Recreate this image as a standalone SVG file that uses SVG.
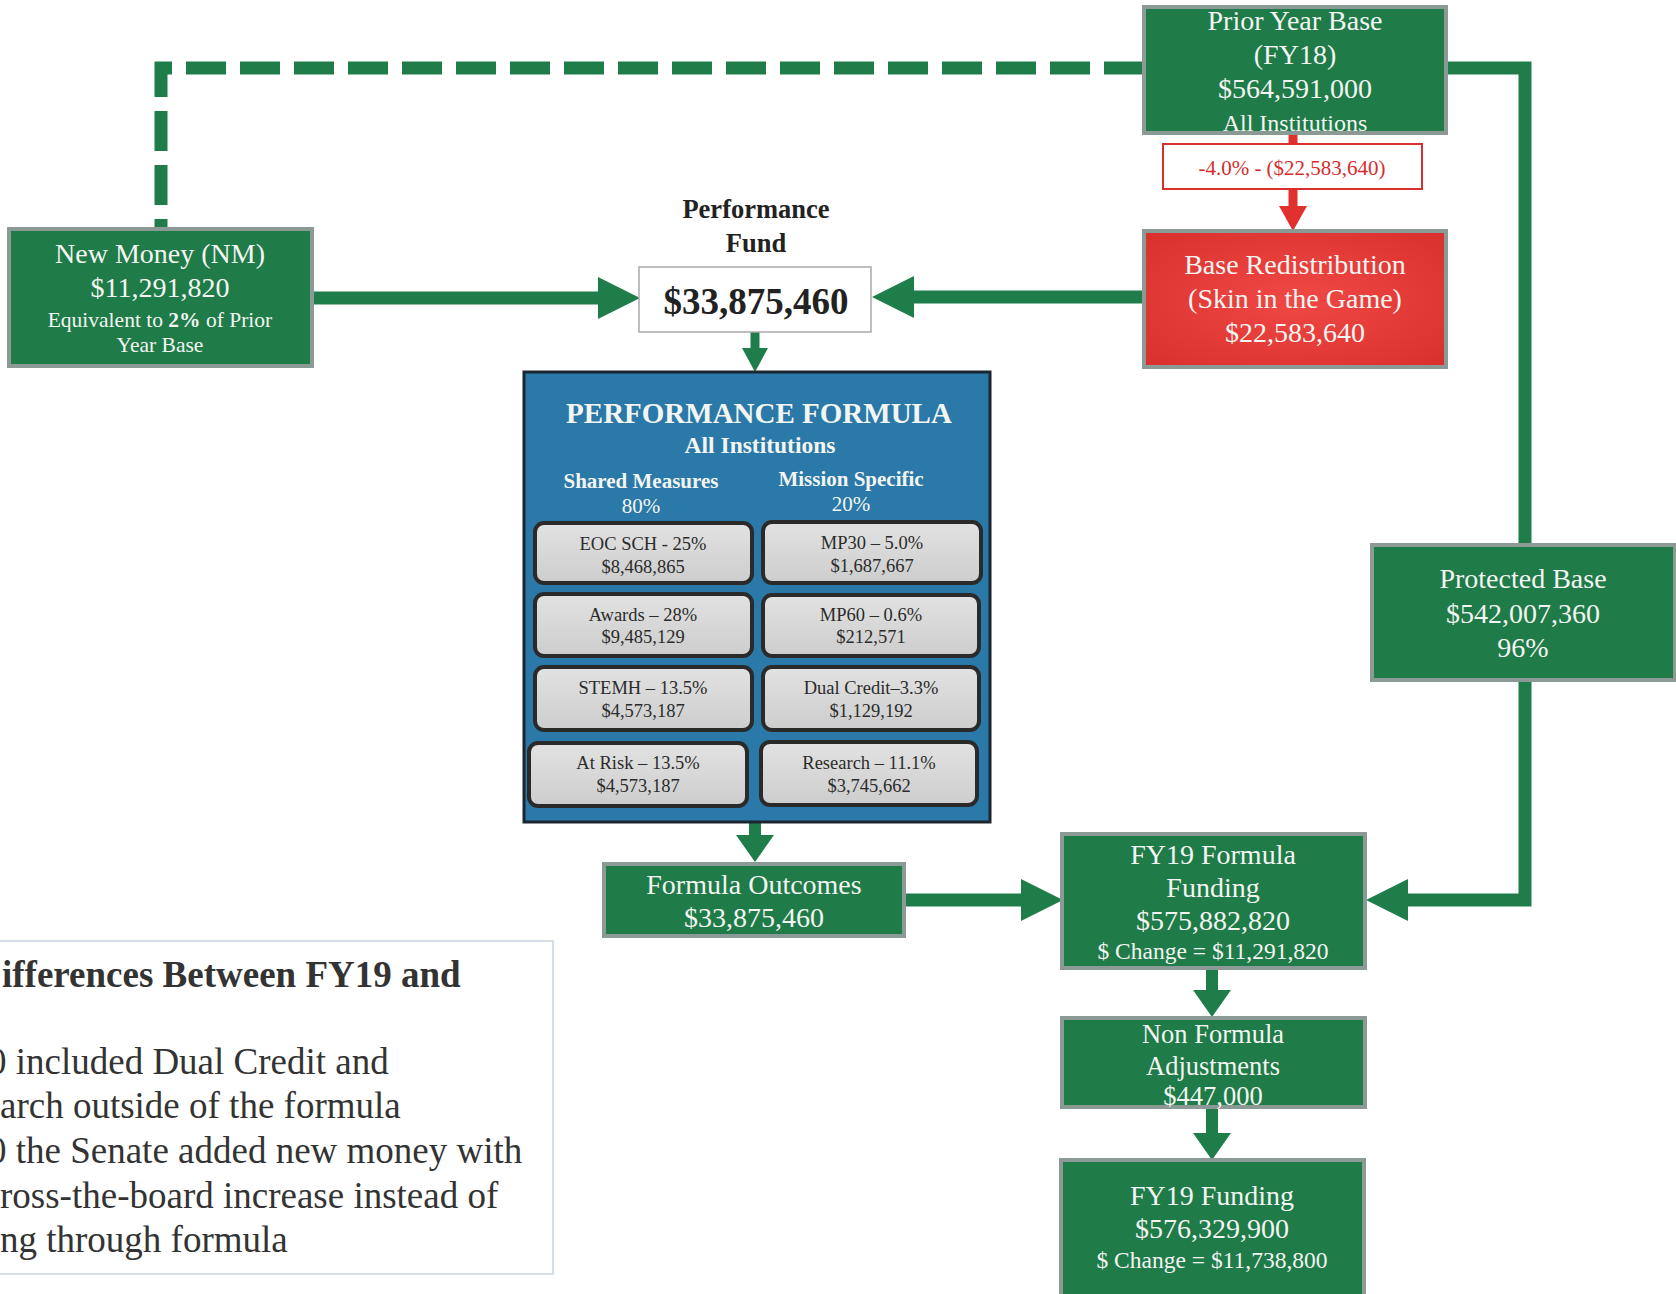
<svg xmlns="http://www.w3.org/2000/svg" width="1676" height="1294" viewBox="0 0 1676 1294">
  <style>
    .t { font-family: "Liberation Serif", "Times New Roman", serif; text-anchor: middle; }
    .w { fill: #f3f5f2; }
    .big { font-size: 28px; }
    .sm { font-size: 23.5px; }
    .gbox { fill: #1f7b48; stroke: #8b9a95; stroke-width: 4; }
    .cell { fill: url(#cellFill); stroke: #2a2a2a; stroke-width: 4; }
    .cellTxt { font-size: 18.5px; fill: #2b2b2b; }
    .conn { fill: none; stroke: #1f7d4a; stroke-width: 13; }
    .note { font-family: "Liberation Serif", "Times New Roman", serif; font-size: 37px; fill: #333; }
  </style>
  <defs>
    <linearGradient id="cellFill" x1="0" y1="0" x2="0" y2="1">
      <stop offset="0" stop-color="#e2e2e2"/>
      <stop offset="1" stop-color="#cdcdcd"/>
    </linearGradient>
    <radialGradient id="redFill" cx="0.5" cy="0.5" r="0.7">
      <stop offset="0" stop-color="#f04844"/>
      <stop offset="1" stop-color="#d9302d"/>
    </radialGradient>
    <marker id="hdLg" markerUnits="userSpaceOnUse" markerWidth="1" markerHeight="1" refX="0" refY="0" orient="auto" overflow="visible">
      <path d="M0,-21 L42,0 L0,21 Z" fill="#1f7d4a"/>
    </marker>
    <marker id="hdMd" markerUnits="userSpaceOnUse" markerWidth="1" markerHeight="1" refX="0" refY="0" orient="auto" overflow="visible">
      <path d="M0,-19 L27,0 L0,19 Z" fill="#1f7d4a"/>
    </marker>
    <marker id="hdSm" markerUnits="userSpaceOnUse" markerWidth="1" markerHeight="1" refX="0" refY="0" orient="auto" overflow="visible">
      <path d="M0,-13 L24,0 L0,13 Z" fill="#1f7d4a"/>
    </marker>
    <marker id="hdRed" markerUnits="userSpaceOnUse" markerWidth="1" markerHeight="1" refX="0" refY="0" orient="auto" overflow="visible">
      <path d="M0,-14 L25,0 L0,14 Z" fill="#e0312e"/>
    </marker>
  </defs>

  <rect width="1676" height="1294" fill="#ffffff"/>

  <!-- connectors -->
  <g id="connectors">
    <path class="conn" d="M1144,68 H161 V229" stroke-dasharray="40 14"/>
    <path class="conn" d="M1446,68 H1525 V545"/>
    <path class="conn" d="M1525,680 V900 H1408" marker-end="url(#hdLg)"/>
    <path class="conn" d="M312,298 H598" marker-end="url(#hdLg)"/>
    <path class="conn" d="M1144,297 H914" marker-end="url(#hdLg)"/>
    <path class="conn" d="M904,900 H1021" marker-end="url(#hdLg)"/>
    <path class="conn" style="stroke-width:9" d="M755,332 V348" marker-end="url(#hdSm)"/>
    <path class="conn" style="stroke-width:12" d="M755,822 V835" marker-end="url(#hdMd)"/>
    <path class="conn" style="stroke-width:12" d="M1212,968 V990" marker-end="url(#hdMd)"/>
    <path class="conn" style="stroke-width:12" d="M1212,1107 V1133" marker-end="url(#hdMd)"/>
    <path fill="none" stroke="#e0312e" stroke-width="9" d="M1293,133 V144"/>
    <path fill="none" stroke="#e0312e" stroke-width="9" d="M1293,189 V206" marker-end="url(#hdRed)"/>
  </g>

  <!-- Prior Year Base -->
  <g id="prior-year-base">
    <rect class="gbox" x="1144" y="7" width="302" height="126"/>
    <text class="t w big" x="1295" y="30">Prior Year Base</text>
    <text class="t w big" x="1295" y="64">(FY18)</text>
    <text class="t w big" x="1295" y="98">$564,591,000</text>
    <text class="t w" x="1295" y="131" font-size="24">All Institutions</text>
  </g>

  <!-- cut label -->
  <g id="base-cut">
    <rect x="1163" y="144" width="259" height="45" fill="#ffffff" stroke="#d9302d" stroke-width="2"/>
    <text class="t" x="1292" y="175" font-size="21" fill="#d62d2d">-4.0% - ($22,583,640)</text>
  </g>

  <!-- Base Redistribution -->
  <g id="base-redistribution">
    <rect x="1144" y="231" width="302" height="136" fill="url(#redFill)" stroke="#8b9a95" stroke-width="4"/>
    <text class="t w big" x="1295" y="274">Base Redistribution</text>
    <text class="t w big" x="1295" y="308">(Skin in the Game)</text>
    <text class="t w big" x="1295" y="342">$22,583,640</text>
  </g>

  <!-- New Money -->
  <g id="new-money">
    <rect class="gbox" x="9" y="229" width="303" height="137"/>
    <text class="t w big" x="160" y="263">New Money (NM)</text>
    <text class="t w big" x="160" y="297">$11,291,820</text>
    <text class="t w" x="160" y="327" font-size="21.5">Equivalent to <tspan font-weight="bold">2%</tspan> of Prior</text>
    <text class="t w" x="160" y="352" font-size="21.5">Year Base</text>
  </g>

  <!-- Performance Fund -->
  <g id="performance-fund">
    <text class="t" x="756" y="218" font-size="26.5" font-weight="bold" fill="#222">Performance</text>
    <text class="t" x="756" y="252" font-size="26.5" font-weight="bold" fill="#222">Fund</text>
    <rect x="639" y="267" width="232" height="65" fill="#ffffff" stroke="#a9a9a9" stroke-width="1.5"/>
    <text class="t" x="756" y="314" font-size="37" font-weight="bold" fill="#222">$33,875,460</text>
  </g>

  <!-- Performance Formula -->
  <g id="performance-formula">
    <rect x="524" y="372" width="466" height="450" fill="#2a79a8" stroke="#1c2630" stroke-width="3"/>
    <text class="t w" x="759" y="423" font-size="29" font-weight="bold">PERFORMANCE FORMULA</text>
    <text class="t w" x="760" y="453" font-size="23.5" font-weight="bold">All Institutions</text>
    <text class="t w" x="641" y="488" font-size="21" font-weight="bold">Shared Measures</text>
    <text class="t w" x="641" y="513" font-size="21">80%</text>
    <text class="t w" x="851" y="486" font-size="21" font-weight="bold">Mission Specific</text>
    <text class="t w" x="851" y="511" font-size="21">20%</text>

    <g id="eoc-sch">
      <rect class="cell" x="535" y="523" width="217" height="60" rx="9"/>
      <text class="t cellTxt" x="643" y="550">EOC SCH - 25%</text>
      <text class="t cellTxt" x="643" y="573">$8,468,865</text>
    </g>
    <g id="awards">
      <rect class="cell" x="535" y="594" width="217" height="62" rx="9"/>
      <text class="t cellTxt" x="643" y="621">Awards – 28%</text>
      <text class="t cellTxt" x="643" y="643">$9,485,129</text>
    </g>
    <g id="stemh">
      <rect class="cell" x="535" y="667" width="217" height="63" rx="9"/>
      <text class="t cellTxt" x="643" y="694">STEMH – 13.5%</text>
      <text class="t cellTxt" x="643" y="717">$4,573,187</text>
    </g>
    <g id="at-risk">
      <rect class="cell" x="529" y="743" width="218" height="63" rx="9"/>
      <text class="t cellTxt" x="638" y="769">At Risk – 13.5%</text>
      <text class="t cellTxt" x="638" y="792">$4,573,187</text>
    </g>
    <g id="mp30">
      <rect class="cell" x="763" y="522" width="218" height="61" rx="9"/>
      <text class="t cellTxt" x="872" y="549">MP30 – 5.0%</text>
      <text class="t cellTxt" x="872" y="572">$1,687,667</text>
    </g>
    <g id="mp60">
      <rect class="cell" x="763" y="595" width="216" height="61" rx="9"/>
      <text class="t cellTxt" x="871" y="621">MP60 – 0.6%</text>
      <text class="t cellTxt" x="871" y="643">$212,571</text>
    </g>
    <g id="dual-credit">
      <rect class="cell" x="763" y="667" width="216" height="63" rx="9"/>
      <text class="t cellTxt" x="871" y="694">Dual Credit–3.3%</text>
      <text class="t cellTxt" x="871" y="717">$1,129,192</text>
    </g>
    <g id="research">
      <rect class="cell" x="761" y="742" width="216" height="63" rx="9"/>
      <text class="t cellTxt" x="869" y="769">Research – 11.1%</text>
      <text class="t cellTxt" x="869" y="792">$3,745,662</text>
    </g>
  </g>

  <!-- Formula Outcomes -->
  <g id="formula-outcomes">
    <rect class="gbox" x="604" y="864" width="300" height="72"/>
    <text class="t w big" x="754" y="894">Formula Outcomes</text>
    <text class="t w big" x="754" y="927">$33,875,460</text>
  </g>

  <!-- Protected Base -->
  <g id="protected-base">
    <rect class="gbox" x="1372" y="545" width="303" height="135"/>
    <text class="t w big" x="1523" y="588">Protected Base</text>
    <text class="t w big" x="1523" y="623">$542,007,360</text>
    <text class="t w big" x="1523" y="657">96%</text>
  </g>

  <!-- FY19 Formula Funding -->
  <g id="fy19-formula-funding">
    <rect class="gbox" x="1062" y="834" width="303" height="134"/>
    <text class="t w big" x="1213" y="864">FY19 Formula</text>
    <text class="t w big" x="1213" y="897">Funding</text>
    <text class="t w big" x="1213" y="930">$575,882,820</text>
    <text class="t w sm" x="1213" y="959">$ Change = $11,291,820</text>
  </g>

  <!-- Non Formula Adjustments -->
  <g id="non-formula-adjustments">
    <rect class="gbox" x="1062" y="1018" width="303" height="89"/>
    <text class="t w" x="1213" y="1043" font-size="26.5">Non Formula</text>
    <text class="t w" x="1213" y="1075" font-size="26.5">Adjustments</text>
    <text class="t w" x="1213" y="1105" font-size="26.5">$447,000</text>
  </g>

  <!-- FY19 Funding -->
  <g id="fy19-funding">
    <rect class="gbox" x="1061" y="1160" width="303" height="140"/>
    <text class="t w big" x="1212" y="1205">FY19 Funding</text>
    <text class="t w big" x="1212" y="1238">$576,329,900</text>
    <text class="t w sm" x="1212" y="1268">$ Change = $11,738,800</text>
  </g>

  <!-- notes panel -->
  <g id="differences-note">
    <rect x="-5" y="941" width="558" height="333" fill="#ffffff" stroke="#c7d4de" stroke-width="1.5"/>
    <text class="note" x="2" y="987" font-weight="bold">ifferences Between FY19 and</text>
    <text class="note" x="-12" y="1074">0 included Dual Credit and</text>
    <text class="note" x="0" y="1118">arch outside of the formula</text>
    <text class="note" x="-12" y="1163">0 the Senate added new money with</text>
    <text class="note" x="0" y="1208">ross-the-board increase instead of</text>
    <text class="note" x="0" y="1252">ng through formula</text>
  </g>
</svg>
